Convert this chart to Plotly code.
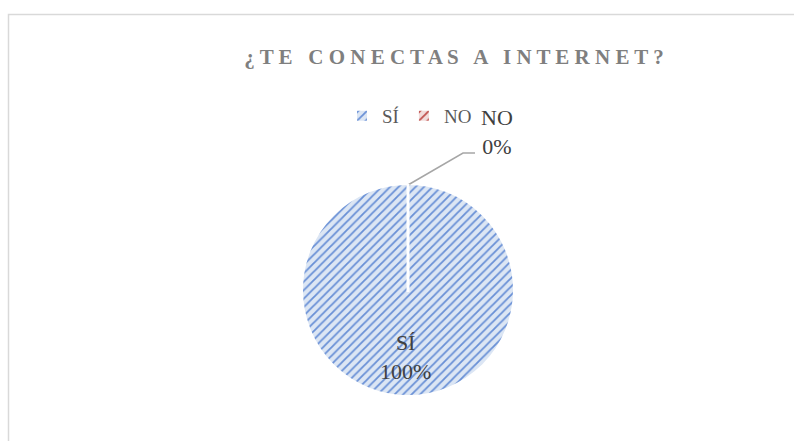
import plotly.graph_objects as go

labels = ["SÍ", "NO"]
values = [100, 0]
colors_fg = ["#6990D6", "#C0504D"]
colors_bg = ["#DCE6F4", "#F2DCDB"]

W, H = 794, 441
SERIF = "Liberation Serif, DejaVu Serif"


def px(x):
    return x / W


def py(y):
    return 1 - y / H


fig = go.Figure()
fig.add_trace(go.Pie(
    labels=labels, values=values, sort=False, direction="clockwise", rotation=0,
    marker=dict(colors=colors_bg, line=dict(color="white", width=2),
                pattern=dict(shape="/", fgcolor=colors_fg, bgcolor=colors_bg,
                             size=6, solidity=0.3)),
    textinfo="none", hoverinfo="label+percent", showlegend=True,
    domain=dict(x=[px(302), px(514)], y=[py(396), py(184)]),
))

# data labels
pct = [v / sum(values) * 100 for v in values]
fig.add_annotation(x=px(405), y=py(357), xref="paper", yref="paper",
                   xanchor="center", yanchor="middle",
                   text=f"{labels[0]}<br>{pct[0]:.0f}%", showarrow=False,
                   font=dict(family=SERIF, size=22, color="#404040"))
fig.add_annotation(x=px(497), y=py(132), xref="paper", yref="paper",
                   xanchor="center", yanchor="middle",
                   text=f"{labels[1]}<br>{pct[1]:.0f}%", showarrow=False,
                   font=dict(family=SERIF, size=22, color="#404040"))

# leader line and slice border
fig.add_shape(type="path", xref="paper", yref="paper",
              path=f"M {px(408)} {py(185)} L {px(463)} {py(153)} L {px(475)} {py(153)}",
              line=dict(color="#A6A6A6", width=1.5))
fig.add_shape(type="line", xref="paper", yref="paper",
              x0=px(408), y0=py(184), x1=px(408), y1=py(292),
              line=dict(color="white", width=3))

# chart border
fig.add_shape(type="rect", xref="paper", yref="paper",
              x0=px(8.5), y0=py(14.5), x1=px(800), y1=py(450),
              line=dict(color="#D9D9D9", width=1.5))

title = "   ".join(" ".join(w) for w in "¿TE CONECTAS A INTERNET?".split(" "))

fig.update_layout(
    width=W, height=H,
    margin=dict(l=0, r=0, t=0, b=0),
    paper_bgcolor="white", plot_bgcolor="white",
    title=dict(text=title, x=px(454), xanchor="center", y=py(57), yanchor="middle",
               font=dict(family=SERIF, size=21, color="#7F7F7F", weight="bold")),
    legend=dict(orientation="h", x=px(342), xanchor="left", y=py(116), yanchor="middle",
                font=dict(family=SERIF, size=19, color="#595959"),
                itemwidth=30, traceorder="normal"),
)

fig.write_html("out.html", config={"displayModeBar": False},
               post_script="document.body.style.margin='0';")
